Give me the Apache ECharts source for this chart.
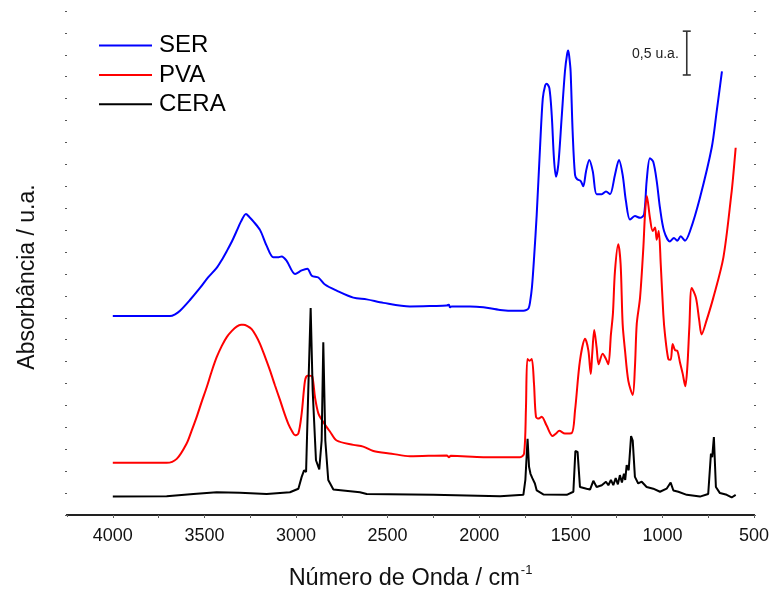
<!DOCTYPE html>
<html>
<head>
<meta charset="utf-8">
<script src="https://cdn.jsdelivr.net/npm/echarts@6/dist/echarts.min.js"></script>
<style>
  html, body { margin: 0; padding: 0; background: #fff; }
  #chart { width: 773px; height: 592px; }
</style>
</head>
<body>
<div id="chart"></div>
<script>
// FTIR spectra (stacked with vertical offsets), wavenumber in cm-1, absorbance in a.u.
const serWavenumber = [4000, 3850, 3750, 3688, 3660, 3633, 3580, 3524, 3480, 3433, 3405, 3378, 3350, 3324, 3300, 3273, 3255, 3233, 3196, 3160, 3124, 3100, 3078, 3051, 3005, 2969, 2938, 2914, 2878, 2842, 2778, 2687, 2614, 2523, 2378, 2250, 2177, 2165, 2160, 2150, 2050, 1977, 1886, 1800, 1759, 1741, 1730, 1723, 1712, 1700, 1686, 1668, 1653, 1640, 1632, 1617, 1604, 1592, 1581, 1568, 1550, 1532, 1520, 1514, 1508, 1501, 1490, 1477, 1465, 1446, 1432, 1417, 1399, 1380, 1359, 1331, 1308, 1286, 1259, 1237, 1217, 1199, 1177, 1150, 1122, 1100, 1086, 1068, 1050, 1031, 1013, 991, 959, 937, 919, 900, 877, 849, 795, 731, 704, 675];
const serAbs = [2.27, 2.27, 2.27, 2.27, 2.29, 2.33, 2.45, 2.59, 2.71, 2.82, 2.91, 3.01, 3.12, 3.24, 3.35, 3.435, 3.40, 3.35, 3.25, 3.07, 2.94, 2.94, 2.95, 2.90, 2.75, 2.79, 2.81, 2.73, 2.71, 2.63, 2.56, 2.48, 2.46, 2.42, 2.38, 2.385, 2.39, 2.40, 2.37, 2.38, 2.38, 2.37, 2.34, 2.33, 2.33, 2.34, 2.36, 2.42, 2.60, 2.95, 3.43, 4.19, 4.75, 4.90, 4.92, 4.87, 4.56, 4.07, 3.86, 4.00, 4.53, 5.06, 5.26, 5.30, 5.22, 5.06, 4.375, 3.88, 3.83, 3.81, 3.75, 3.92, 4.05, 3.92, 3.66, 3.66, 3.69, 3.66, 3.88, 4.05, 3.88, 3.58, 3.37, 3.41, 3.39, 3.43, 3.81, 4.07, 4.03, 3.81, 3.50, 3.24, 3.12, 3.16, 3.13, 3.18, 3.13, 3.24, 3.62, 4.19, 4.60, 5.06];

const pvaWavenumber = [4000, 3850, 3706, 3651, 3597, 3570, 3542, 3515, 3487, 3460, 3433, 3405, 3378, 3350, 3324, 3300, 3288, 3265, 3242, 3220, 3196, 3170, 3142, 3115, 3087, 3065, 3042, 3020, 3005, 2987, 2969, 2951, 2938, 2925, 2911, 2896, 2878, 2851, 2814, 2778, 2687, 2633, 2578, 2478, 2378, 2177, 2165, 2155, 1977, 1777, 1755, 1745, 1737, 1725, 1713, 1701, 1690, 1675, 1659, 1632, 1599, 1580, 1563, 1532, 1495, 1477, 1450, 1422, 1404, 1391, 1383, 1372, 1359, 1348, 1326, 1308, 1295, 1281, 1270, 1259, 1241, 1228, 1217, 1204, 1186, 1162, 1150, 1140, 1122, 1104, 1095, 1085, 1068, 1053, 1040, 1031, 1020, 1009, 995, 986, 968, 955, 944, 931, 919, 904, 889, 875, 864, 853, 840, 817, 799, 786, 759, 722, 667, 622, 613, 600];
const pvaAbs = [0.595, 0.595, 0.595, 0.64, 0.815, 0.96, 1.12, 1.29, 1.46, 1.64, 1.80, 1.93, 2.03, 2.10, 2.15, 2.17, 2.17, 2.155, 2.12, 2.05, 1.95, 1.81, 1.65, 1.48, 1.31, 1.17, 1.04, 0.95, 0.91, 0.93, 1.16, 1.53, 1.59, 1.59, 1.58, 1.34, 1.16, 1.06, 0.95, 0.85, 0.80, 0.78, 0.73, 0.70, 0.67, 0.68, 0.66, 0.675, 0.66, 0.66, 0.70, 1.20, 1.78, 1.76, 1.78, 1.50, 1.12, 1.10, 1.12, 1.02, 0.90, 0.93, 0.96, 0.93, 0.935, 1.19, 1.76, 2.01, 1.875, 1.61, 1.84, 2.11, 1.91, 1.72, 1.84, 1.78, 1.72, 2.06, 2.30, 2.78, 3.09, 2.86, 2.18, 1.875, 1.53, 1.37, 1.685, 2.18, 2.48, 3.05, 3.43, 3.64, 3.39, 3.24, 3.28, 3.14, 3.24, 2.86, 2.29, 2.06, 1.78, 1.77, 1.95, 1.88, 1.875, 1.74, 1.61, 1.47, 1.685, 2.14, 2.59, 2.48, 2.22, 2.06, 2.22, 2.48, 2.94, 3.69, 3.88, 4.19];

const ceraWavenumber = [4000, 3706, 3560, 3433, 3306, 3160, 3033, 2987, 2969, 2956, 2945, 2933, 2920, 2909, 2891, 2873, 2860, 2851, 2840, 2824, 2796, 2651, 2614, 2250, 1886, 1759, 1748, 1736, 1728, 1720, 1710, 1696, 1686, 1650, 1522, 1486, 1475, 1463, 1450, 1414, 1395, 1377, 1359, 1331, 1308, 1295, 1281, 1268, 1255, 1243, 1232, 1221, 1210, 1203, 1195, 1184, 1171, 1162, 1150, 1132, 1113, 1086, 1050, 1013, 977, 955, 940, 913, 867, 795, 750, 735, 728, 719, 708, 686, 649, 622, 613, 600];
const ceraAbs = [0.21, 0.215, 0.24, 0.26, 0.255, 0.24, 0.26, 0.30, 0.435, 0.51, 0.49, 1.42, 2.36, 1.42, 0.625, 0.52, 0.85, 1.97, 0.85, 0.40, 0.29, 0.26, 0.24, 0.23, 0.215, 0.23, 0.40, 0.87, 0.55, 0.47, 0.42, 0.36, 0.28, 0.235, 0.23, 0.265, 0.73, 0.72, 0.32, 0.30, 0.29, 0.39, 0.32, 0.34, 0.38, 0.34, 0.40, 0.34, 0.42, 0.35, 0.455, 0.37, 0.47, 0.40, 0.57, 0.51, 0.90, 0.85, 0.435, 0.36, 0.38, 0.32, 0.30, 0.265, 0.30, 0.37, 0.28, 0.265, 0.23, 0.21, 0.24, 0.70, 0.66, 0.89, 0.32, 0.25, 0.23, 0.20, 0.19, 0.23];

const seriesNames = ['SER', 'PVA', 'CERA'];
const seriesColors = ['#0000ff', '#ff0000', '#000000'];

// Scale bar: [wavenumber position, bottom, top] in absorbance units (0.5 a.u.)
const scaleBar = [867, 5.02, 5.52];
const scaleBarLabel = '0,5 u.a.';

const FONT = '"Liberation Sans", Arial, sans-serif';

function pairs(xs, ys) {
  return xs.map((x, i) => [x, ys[i]]);
}

const chart = echarts.init(document.getElementById('chart'), null, { renderer: 'canvas' });

const tickDot = { show: true, length: 2, lineStyle: { color: '#555', width: 1 } };

chart.setOption({
  animation: false,
  backgroundColor: '#ffffff',
  textStyle: { fontFamily: FONT },
  grid: { left: 67, right: 19, top: 11, bottom: 77, containLabel: false, outerBoundsMode: 'none' },
  legend: {
    data: seriesNames,
    orient: 'vertical',
    left: 99,
    top: 33.5,
    padding: 0,
    icon: 'rect',
    itemWidth: 53,
    itemHeight: 2,
    itemGap: 5.4,
    textStyle: { fontFamily: FONT, fontSize: 24, color: '#000', lineHeight: 24, padding: [0, 0, 0, 2] }
  },
  xAxis: [
    {
      type: 'value',
      position: 'bottom',
      inverse: true,
      min: 500,
      max: 4250,
      interval: 250,
      splitLine: { show: false },
      axisLine: { show: true, lineStyle: { color: '#222', width: 2 } },
      axisTick: { show: true, length: 3, lineStyle: { color: '#555', width: 1 } },
      axisLabel: {
        fontFamily: FONT, fontSize: 18, color: '#111', margin: 12,
        showMaxLabel: false, showMinLabel: true,
        formatter: v => (v % 500 === 0 ? String(v) : '')
      },
      name: '{a|Número de Onda / cm}{b|-1}',
      nameLocation: 'middle',
      nameGap: 49,
      nameTextStyle: {
        rich: {
          a: { fontFamily: FONT, fontSize: 23.5, color: '#111', lineHeight: 27, verticalAlign: 'bottom' },
          b: { fontFamily: FONT, fontSize: 13, color: '#111', lineHeight: 27, verticalAlign: 'top', padding: [0, 0, 0, 1] }
        }
      }
    },
    {
      type: 'value',
      position: 'top',
      inverse: true,
      min: 500,
      max: 4250,
      interval: 250,
      splitLine: { show: false },
      axisLine: { show: true, lineStyle: { color: '#222', width: 2 } },
      axisTick: { show: true, inside: true, length: 2, lineStyle: { color: '#666', width: 1 } },
      axisLabel: { show: false }
    }
  ],
  yAxis: [
    {
      type: 'value',
      position: 'left',
      min: 0,
      max: 5.75,
      interval: 0.25,
      splitLine: { show: false },
      axisLine: { show: false },
      axisTick: tickDot,
      axisLabel: { show: false },
      name: 'Absorbância / u.a.',
      nameLocation: 'middle',
      nameGap: 28,
      nameRotate: 90,
      nameTextStyle: { fontFamily: FONT, fontSize: 23, color: '#111', padding: [0, 28, 0, 0] }
    },
    {
      type: 'value',
      position: 'right',
      min: 0,
      max: 5.75,
      interval: 0.25,
      splitLine: { show: false },
      axisLine: { show: false },
      axisTick: tickDot,
      axisLabel: { show: false }
    }
  ],
  series: [
    {
      name: 'SER', type: 'line', data: pairs(serWavenumber, serAbs),
      showSymbol: false, smooth: 0.3,
      lineStyle: { color: seriesColors[0], width: 2 }, itemStyle: { color: seriesColors[0] }
    },
    {
      name: 'PVA', type: 'line', data: pairs(pvaWavenumber, pvaAbs),
      showSymbol: false, smooth: 0.3,
      lineStyle: { color: seriesColors[1], width: 2 }, itemStyle: { color: seriesColors[1] }
    },
    {
      name: 'CERA', type: 'line', data: pairs(ceraWavenumber, ceraAbs),
      showSymbol: false, smooth: false,
      lineStyle: { color: seriesColors[2], width: 2 }, itemStyle: { color: seriesColors[2] }
    },
    {
      // vertical 0.5 a.u. scale bar with end caps and its label
      type: 'custom',
      silent: true,
      data: [scaleBar],
      renderItem: function (params, api) {
        const bottom = api.coord([api.value(0), api.value(1)]);
        const top = api.coord([api.value(0), api.value(2)]);
        const cap = 4;
        const stroke = { stroke: '#333', lineWidth: 1.6 };
        return {
          type: 'group',
          children: [
            { type: 'line', shape: { x1: top[0], y1: top[1], x2: bottom[0], y2: bottom[1] }, style: stroke },
            { type: 'line', shape: { x1: top[0] - cap, y1: top[1], x2: top[0] + cap, y2: top[1] }, style: stroke },
            { type: 'line', shape: { x1: bottom[0] - cap, y1: bottom[1], x2: bottom[0] + cap, y2: bottom[1] }, style: stroke },
            {
              type: 'text',
              style: {
                text: scaleBarLabel, x: top[0] - 8, y: (top[1] + bottom[1]) / 2 + 1,
                align: 'right', verticalAlign: 'middle',
                font: '14px ' + FONT, fill: '#222'
              }
            }
          ]
        };
      }
    }
  ]
});
</script>
</body>
</html>
